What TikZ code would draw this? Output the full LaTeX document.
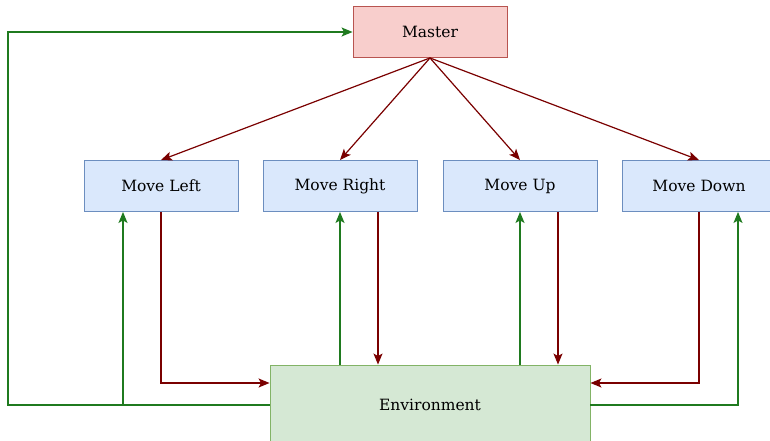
\documentclass[tikz,border=0pt]{standalone}
\usepackage{fontspec}
\setmainfont{DejaVu Serif}
\usepackage{xcolor}
\usetikzlibrary{arrows.meta}

\definecolor{masterfill}{HTML}{F8CECC}
\definecolor{masterline}{HTML}{B85450}
\definecolor{movefill}{HTML}{DAE8FC}
\definecolor{moveline}{HTML}{6C8EBF}
\definecolor{envfill}{HTML}{D5E8D4}
\definecolor{envline}{HTML}{82B366}
\definecolor{actline}{HTML}{7A0000}
\definecolor{obsline}{HTML}{1F7A1F}

\begin{document}
\begin{tikzpicture}[x=1pt, y=-1pt, >={Stealth[length=11pt,width=9pt,inset=2.5pt]},
    every node/.style={font=\fontsize{15.5}{18}\selectfont, line width=0.9pt},
    movebox/.style={draw=moveline, fill=movefill, rectangle, minimum width=154pt, minimum height=51pt},
    act/.style={->, color=actline, line width=1.2pt},
    obs/.style={->, color=obsline, line width=1.2pt}]
    \useasboundingbox (0,0) rectangle (770,441);

    % Master
    \node[draw=masterline, fill=masterfill, rectangle, minimum width=154pt, minimum height=51pt] (master) at (430,32) {Master};

    % Options
    \node[movebox] (left) at (161,186) {Move Left};
    \node[movebox] (right) at (340,186) {Move Right};
    \node[movebox] (up) at (520,186) {Move Up};
    \node[movebox] (down) at (699,186) {Move Down};

    % Environment
    \node[draw=envline, fill=envfill, rectangle, minimum width=320pt, minimum height=80pt] (env) at (430,405) {Environment};

    % Master picks an option
    \draw[act] (master.south) -- (left.north);
    \draw[act] (master.south) -- (right.north);
    \draw[act] (master.south) -- (up.north);
    \draw[act] (master.south) -- (down.north);

    % Actions into the environment
    \draw[act] (left.south) |- ([yshift=22pt]env.west);
    \draw[act] ([xshift=38pt]right.south) -- ([xshift=38pt]right.south |- env.north);
    \draw[act] ([xshift=38pt]up.south) -- ([xshift=38pt]up.south |- env.north);
    \draw[act] (down.south) |- ([yshift=22pt]env.east);

    % State back to the options
    \draw[obs] (env.west) -| ([xshift=-38pt]left.south);
    \draw[obs] (env.north -| right.south) -- (right.south);
    \draw[obs] (env.north -| up.south) -- (up.south);
    \draw[obs] (env.east) -| ([xshift=39pt]down.south);

    % State back to the master
    \coordinate (loop) at (8,405);
    \draw[obs] (env.west) -- (loop) |- (master.west);
\end{tikzpicture}
\end{document}
